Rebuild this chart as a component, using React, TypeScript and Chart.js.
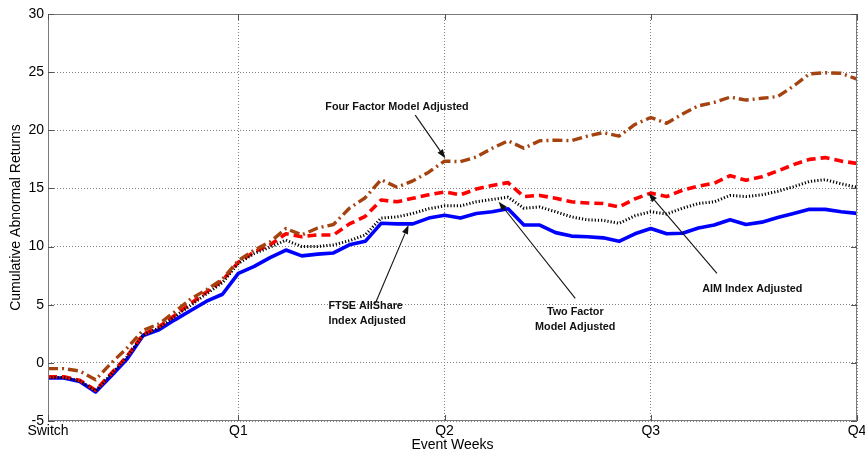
import React, { useEffect, useRef } from 'react';
import { Chart, registerables } from 'chart.js';

Chart.register(...registerables);

// ---- data ----
const weeks: number[] = Array.from({ length: 52 }, (_, i) => i);
const tickWeeks = [0, 12, 25, 38, 51];
const tickLabels = ['Switch', 'Q1', 'Q2', 'Q3', 'Q4'];

const fourFactorAdj = [
  -0.5, -0.5, -0.7, -1.45, 0.0, 1.3, 2.8, 3.35, 4.4, 5.5, 6.3, 7.2, 8.8,
  9.7, 10.4, 11.55, 11.0, 11.6, 11.9, 13.3, 14.2, 15.75, 15.1,
  15.65, 16.4, 17.35, 17.3, 17.7, 18.45, 19.1, 18.45, 19.1, 19.15,
  19.1, 19.5, 19.8, 19.5, 20.5, 21.1, 20.6, 21.4, 22.1, 22.4,
  22.85, 22.6, 22.75, 22.9, 23.8, 24.85, 24.95, 24.9, 24.4,
];
const twoFactorAdj = [
  -1.25, -1.25, -1.55, -2.4, -0.95, 0.55, 2.4, 3.0, 4.0, 4.95, 5.95, 6.9, 8.55,
  9.4, 9.95, 10.55, 10.0, 10.0, 10.15, 10.5, 11.0, 12.45, 12.55,
  12.85, 13.25, 13.5, 13.5, 13.85, 14.05, 14.25, 13.3, 13.4, 13.0,
  12.55, 12.3, 12.25, 12.0, 12.65, 13.0, 12.8, 13.3, 13.7, 13.85,
  14.4, 14.3, 14.45, 14.75, 15.15, 15.6, 15.75, 15.4, 15.1,
];
const aimAdj = [
  -1.2, -1.2, -1.5, -2.35, -0.9, 0.6, 2.45, 3.1, 4.1, 5.1, 6.1, 7.1, 8.65,
  9.55, 10.15, 11.1, 10.85, 11.0, 11.0, 11.95, 12.6, 14.0, 13.85,
  14.15, 14.45, 14.7, 14.45, 14.95, 15.25, 15.5, 14.3, 14.4, 14.15,
  13.85, 13.75, 13.7, 13.4, 14.1, 14.6, 14.3, 14.85, 15.2, 15.45,
  16.1, 15.7, 16.0, 16.5, 17.05, 17.5, 17.65, 17.35, 17.15,
];
const ftseAdj = [
  -1.3, -1.3, -1.6, -2.5, -1.1, 0.35, 2.35, 2.85, 3.7, 4.5, 5.3, 5.9, 7.7,
  8.3, 9.05, 9.7, 9.2, 9.35, 9.45, 10.15, 10.45, 12.0, 11.95,
  11.95, 12.45, 12.7, 12.45, 12.85, 13.0, 13.25, 11.85, 11.85, 11.2,
  10.9, 10.85, 10.75, 10.45, 11.1, 11.55, 11.1, 11.15, 11.6, 11.85,
  12.3, 11.9, 12.1, 12.5, 12.85, 13.2, 13.2, 13.0, 12.85,
];

// annotation texts with anchor and arrow (in data units)
const annotations = [
  { lines: ['Four Factor Model Adjusted'], x: 22.0, y: 22.0, align: 'center', from: [23.15, 21.3], to: [25.05, 17.6] },
  { lines: ['FTSE AllShare', 'Index Adjusted'], x: 17.68, y: 4.85, align: 'left', from: [20.64, 5.12], to: [22.73, 11.85] },
  { lines: ['Two Factor', 'Model Adjusted'], x: 33.24, y: 4.37, align: 'center', from: [33.24, 5.55], to: [28.41, 13.86] },
  { lines: ['AIM Index Adjusted'], x: 44.4, y: 6.35, align: 'center', from: [42.17, 7.7], to: [37.86, 14.58] },
];

const FONT = "'Liberation Sans', Arial, Helvetica, sans-serif";

const toPoints = (vals: number[]) => weeks.map((w, i) => ({ x: w, y: vals[i] }));

const decorPlugin = {
  id: 'decor',
  afterDatasetsDraw(chart: any) {
    const { ctx, chartArea: a, scales } = chart;
    const xs = scales.x;
    const ys = scales.y;
    ctx.save();
    // frame
    ctx.strokeStyle = '#7a7a7a';
    ctx.lineWidth = 1;
    ctx.setLineDash([]);
    ctx.strokeRect(Math.round(a.left) + 0.5, Math.round(a.top) + 0.5, Math.round(a.right - a.left) - 1, Math.round(a.bottom - a.top) - 1);
    // inner ticks
    ctx.strokeStyle = '#555';
    const tl = 6;
    ctx.beginPath();
    for (let v = -5; v <= 30; v += 5) {
      const py = Math.round(ys.getPixelForValue(v)) + 0.5;
      ctx.moveTo(a.left, py); ctx.lineTo(a.left + tl, py);
      ctx.moveTo(a.right, py); ctx.lineTo(a.right - tl, py);
    }
    tickWeeks.forEach((w) => {
      const px = Math.round(xs.getPixelForValue(w)) + 0.5;
      ctx.moveTo(px, a.bottom); ctx.lineTo(px, a.bottom - tl);
      ctx.moveTo(px, a.top); ctx.lineTo(px, a.top + tl);
    });
    ctx.stroke();
    // annotations
    ctx.fillStyle = '#111';
    ctx.strokeStyle = '#111';
    ctx.font = `bold 10.8px ${FONT}`;
    ctx.textBaseline = 'middle';
    annotations.forEach((an) => {
      const tx = xs.getPixelForValue(an.x);
      const ty = ys.getPixelForValue(an.y);
      ctx.textAlign = an.align as CanvasTextAlign;
      an.lines.forEach((ln, k) => ctx.fillText(ln, tx, ty + k * 14.5));
      const x1 = xs.getPixelForValue(an.from[0]);
      const y1 = ys.getPixelForValue(an.from[1]);
      const x2 = xs.getPixelForValue(an.to[0]);
      const y2 = ys.getPixelForValue(an.to[1]);
      const ang = Math.atan2(y2 - y1, x2 - x1);
      const hl = 9, hw = 3.2;
      const bx = x2 - hl * Math.cos(ang);
      const by = y2 - hl * Math.sin(ang);
      ctx.lineWidth = 1.1;
      ctx.beginPath();
      ctx.moveTo(x1, y1);
      ctx.lineTo(bx, by);
      ctx.stroke();
      ctx.beginPath();
      ctx.moveTo(x2, y2);
      ctx.lineTo(bx + hw * Math.sin(ang), by - hw * Math.cos(ang));
      ctx.lineTo(bx - hw * Math.sin(ang), by + hw * Math.cos(ang));
      ctx.closePath();
      ctx.fill();
    });
    ctx.restore();
  },
};

export default function App() {
  const ref = useRef<HTMLCanvasElement | null>(null);
  useEffect(() => {
    if (!ref.current) return;
    const chart = new Chart(ref.current, {
      type: 'line',
      data: {
        datasets: [
          {
            label: 'Four Factor Model Adjusted',
            data: toPoints(fourFactorAdj),
            borderColor: '#A4430F',
            borderWidth: 3.4,
            borderDash: [10, 4, 2, 4],
          },
          {
            label: 'Two Factor Model Adjusted',
            data: toPoints(twoFactorAdj),
            borderColor: '#000',
            borderWidth: 3,
            borderDash: [1.2, 2],
          },
          {
            label: 'AIM Index Adjusted',
            data: toPoints(aimAdj),
            borderColor: '#FF0000',
            borderWidth: 3.6,
            borderDash: [9, 5],
          },
          {
            label: 'FTSE AllShare Index Adjusted',
            data: toPoints(ftseAdj),
            borderColor: '#0000FF',
            borderWidth: 3.6,
          },
        ] as any,
      },
      options: {
        animation: false,
        responsive: false,
        maintainAspectRatio: false,
        parsing: false as any,
        elements: {
          point: { radius: 0, hoverRadius: 0 },
          line: { tension: 0, borderJoinStyle: 'round', fill: false },
        },
        layout: { padding: { left: 0, right: 8, top: 14, bottom: 0 } },
        plugins: {
          legend: { display: false },
          tooltip: { enabled: false },
        },
        events: [],
        scales: {
          x: {
            type: 'linear',
            min: 0,
            max: 51,
            afterBuildTicks: (s: any) => {
              s.ticks = tickWeeks.map((v) => ({ value: v }));
            },
            afterFit: (s: any) => {
              s.height = 33;
              s.paddingLeft = 0;
              s.paddingRight = 0;
            },
            ticks: {
              autoSkip: false,
              maxRotation: 0,
              padding: 2,
              color: '#000',
              font: { family: FONT, size: 14 },
              callback: (v: any) => tickLabels[tickWeeks.indexOf(Number(v))] ?? '',
            },
            grid: { color: '#808080', lineWidth: 1, drawTicks: false },
            border: { display: false, dash: [1, 2] },
            title: {
              display: true,
              text: 'Event Weeks',
              color: '#000',
              font: { family: FONT, size: 14 },
              padding: { top: 0, bottom: 0 },
            },
          },
          y: {
            type: 'linear',
            min: -5,
            max: 30,
            afterFit: (s: any) => {
              s.width = 48;
            },
            ticks: {
              stepSize: 5,
              padding: 4,
              color: '#000',
              font: { family: FONT, size: 14 },
            },
            grid: { color: '#808080', lineWidth: 1, drawTicks: false },
            border: { display: false, dash: [1, 2] },
            title: {
              display: true,
              text: 'Cumulative Abnormal Returns',
              color: '#000',
              font: { family: FONT, size: 14 },
              padding: { top: 8, bottom: 0 },
            },
          },
        },
      } as any,
      plugins: [decorPlugin],
    });
    return () => chart.destroy();
  }, []);
  return (
    <div style={{ position: 'fixed', left: 0, top: 0, width: 865, height: 454, background: '#fff' }}>
      <canvas ref={ref} width={865} height={454} style={{ display: 'block', width: 865, height: 454 }} />
    </div>
  );
}
